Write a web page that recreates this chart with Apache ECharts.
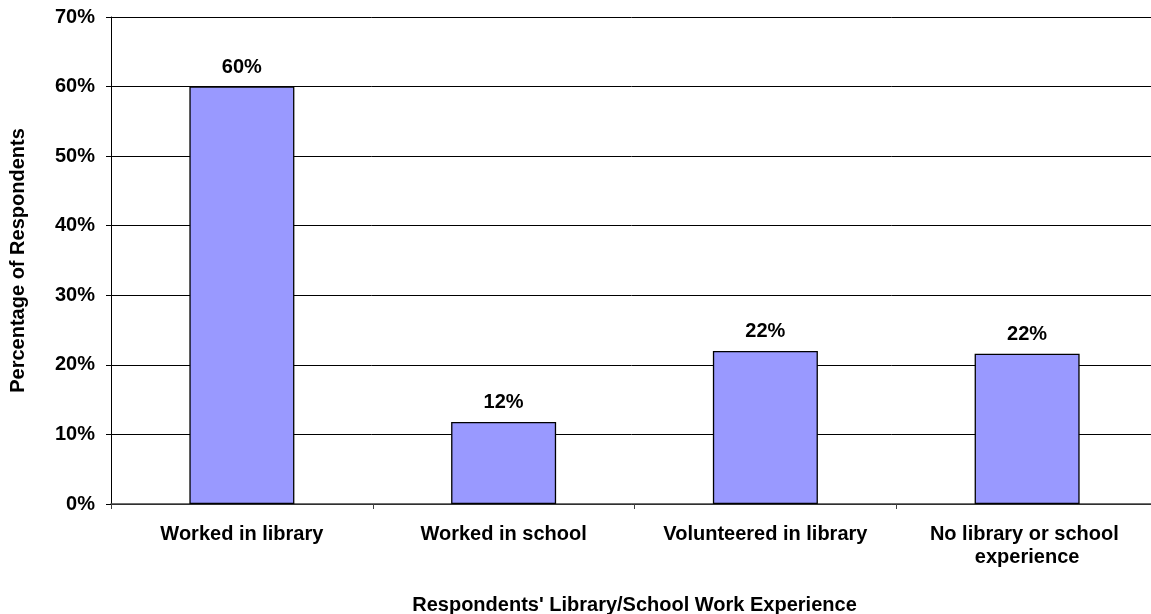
<!DOCTYPE html>
<html>
<head>
<meta charset="utf-8">
<script src="https://cdn.jsdelivr.net/npm/echarts@6/dist/echarts.min.js"></script>
<style>
html,body{margin:0;padding:0;background:#fff;}
#chart{width:1151px;height:614px;}
</style>
</head>
<body>
<div id="chart"></div>
<script>
const categories = ["Worked in library", "Worked in school", "Volunteered in library", "No library or school experience"];
const values = [60, 11.8, 22.0, 21.6];
const yTicks = [0, 10, 20, 30, 40, 50, 60, 70];
const xTitle = "Respondents' Library/School Work Experience";
const yTitle = "Percentage of Respondents";

const FONT = '"Liberation Sans", Arial, sans-serif';
const chart = echarts.init(document.getElementById('chart'), null, {renderer: 'canvas'});
chart.setOption({
  animation: false,
  backgroundColor: '#fff',
  grid: {left: 111, top: 17, width: 1047, bottom: 110, containLabel: false, outerBoundsMode: 'none'},
  xAxis: {
    type: 'category',
    data: categories,
    name: xTitle,
    nameLocation: 'middle',
    nameGap: 91,
    nameTextStyle: {fontFamily: FONT, fontWeight: 'bold', fontSize: 20, color: '#000'},
    axisLine: {show: true, lineStyle: {color: '#404040', width: 1.5}},
    axisTick: {show: true, length: 5, alignWithLabel: false, lineStyle: {color: '#404040'}},
    axisLabel: {
      interval: 0, margin: 19, fontFamily: FONT, fontWeight: 'bold', fontSize: 20, color: '#000',
      width: 235, overflow: 'break', lineHeight: 23
    },
    splitLine: {show: false}
  },
  yAxis: {
    type: 'value',
    min: yTicks[0], max: yTicks[yTicks.length - 1], interval: 10,
    name: yTitle,
    nameLocation: 'middle',
    nameGap: 83,
    nameTextStyle: {fontFamily: FONT, fontWeight: 'bold', fontSize: 20, color: '#000'},
    axisLine: {show: true, lineStyle: {color: '#000', width: 1}},
    axisTick: {show: true, length: 5, lineStyle: {color: '#000'}},
    axisLabel: {margin: 16, fontFamily: FONT, fontWeight: 'bold', fontSize: 20, color: '#000', formatter: '{value}%'},
    splitLine: {show: true, lineStyle: {color: '#000', width: 1}}
  },
  series: [{
    type: 'bar',
    data: values,
    barWidth: 105,
    itemStyle: {color: '#9999FF', borderColor: '#000', borderWidth: 1.3},
    label: {
      show: true, position: 'top', distance: 9,
      fontFamily: FONT, fontWeight: 'bold', fontSize: 20, color: '#000',
      formatter: p => Math.round(p.value) + '%'
    }
  }]
});
</script>
</body>
</html>
